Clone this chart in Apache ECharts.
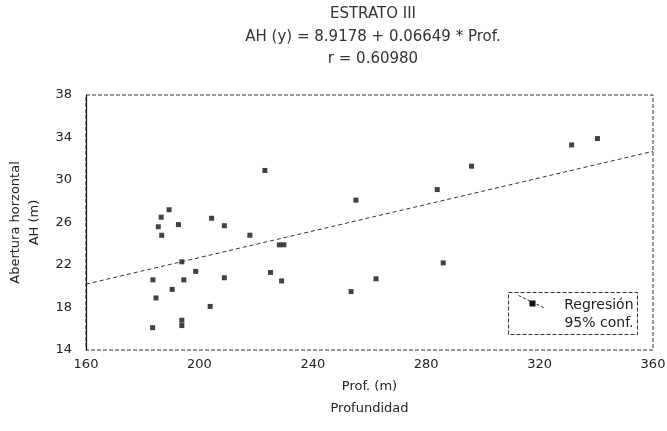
<!DOCTYPE html>
<html>
<head>
<meta charset="utf-8">
<script src="https://cdn.jsdelivr.net/npm/echarts@6/dist/echarts.min.js"></script>
<style>
  html, body { margin: 0; padding: 0; background: #fff; }
  #chart { width: 667px; height: 431px; }
</style>
</head>
<body>
<div id="chart"></div>
<script>
// profundidad (m) y abertura horizontal AH (m)
const prof = [223.1, 255.2, 189.3, 186.5, 185.5, 192.6, 186.7, 204.3, 208.8, 217.8,
  228.2, 229.8, 193.8, 198.7, 183.6, 194.5, 208.8, 225.1, 229.0, 190.4,
  184.7, 203.8, 183.5, 193.8, 193.8, 253.5, 262.3, 331.3, 340.4, 296.0,
  283.9, 286.0];
const ah = [30.9, 28.1, 27.2, 26.5, 25.6, 25.8, 24.8, 26.4, 25.7, 24.8,
  23.9, 23.9, 22.3, 21.4, 20.6, 20.6, 20.8, 21.3, 20.5, 19.7,
  18.9, 18.1, 16.1, 16.3, 16.8, 19.5, 20.7, 33.3, 33.9, 31.3,
  29.1, 22.2];
// recta de regresion (extremos leidos)
const regX = [160, 360];
const regY = [20.2, 32.7];

const xTicks = [160, 200, 240, 280, 320, 360];
const yTicks = [14, 18, 22, 26, 30, 34, 38];

let points = prof.map((p, i) => [p, ah[i]]);
let reg = regX.map((x, i) => [x, regY[i]]);

let myChart = echarts.init(document.getElementById("chart"));
myChart.setOption({
  animation: false,
  textStyle: { fontFamily: "DejaVu Sans", color: "#222" },
  title: {
    text: "ESTRATO III\nAH (y) = 8.9178 + 0.06649 * Prof.\nr = 0.60980",
    left: 368,
    top: -2,
    textAlign: "center",
    textStyle: {
      fontSize: 15,
      fontWeight: "normal",
      color: "#333",
      lineHeight: 22.5,
      fontFamily: "DejaVu Sans",
    },
  },
  grid: {
    left: 86,
    right: 14,
    top: 95,
    bottom: 81,
    outerBoundsMode: "none",
    show: true,
    borderColor: "#333",
    borderWidth: 1,
    borderType: "dashed",
  },
  xAxis: {
    type: "value",
    min: 160,
    max: 360,
    interval: 40,
    name: "Prof. (m)\nProfundidad",
    nameLocation: "middle",
    nameGap: 24,
    nameTextStyle: { fontSize: 13, lineHeight: 22, color: "#222", verticalAlign: "top" },
    axisLine: { show: false },
    axisTick: { show: false },
    splitLine: { show: false },
    axisLabel: {
      fontSize: 13,
      color: "#222",
      margin: 8,
      formatter: (v) => (xTicks.includes(v) ? String(v) : ""),
    },
  },
  yAxis: {
    type: "value",
    min: 14,
    max: 38,
    interval: 4,
    name: "Abertura horzontal\nAH (m)",
    nameLocation: "middle",
    nameRotate: 90,
    nameGap: 36,
    nameTextStyle: { fontSize: 13, lineHeight: 19, color: "#222" },
    axisLine: { show: true, lineStyle: { color: "#111", width: 1.2 } },
    axisTick: { show: false },
    splitLine: { show: false },
    axisLabel: {
      fontSize: 13,
      color: "#222",
      margin: 14,
      formatter: (v) => (yTicks.includes(v) ? String(v) : ""),
    },
  },
  series: [
    {
      name: "Regresión",
      type: "line",
      data: reg,
      symbol: "none",
      lineStyle: { color: "#333", width: 1, type: [4, 3] },
      silent: true,
    },
    {
      name: "Datos",
      type: "scatter",
      data: points,
      symbol: "rect",
      symbolSize: 5,
      itemStyle: { color: "#111" },
    },
  ],
  graphic: [
    {
      type: "group",
      left: 508,
      top: 292,
      children: [
        {
          type: "rect",
          shape: { x: 0, y: 0, width: 129, height: 42 },
          style: { fill: "#fff", stroke: "#333", lineWidth: 1, lineDash: [4, 2] },
        },
        {
          type: "line",
          shape: { x1: 10, y1: 3, x2: 37, y2: 16 },
          style: { stroke: "#333", lineWidth: 1, lineDash: [3, 2] },
        },
        {
          type: "rect",
          shape: { x: 21, y: 8, width: 6, height: 6 },
          style: { fill: "#111" },
        },
        {
          type: "text",
          x: 125,
          y: 4,
          style: {
            text: "Regresión\n95% conf.",
            align: "right",
            fontSize: 14,
            lineHeight: 18,
            fill: "#222",
            fontFamily: "DejaVu Sans",
          },
        },
      ],
    },
  ],
});
window.addEventListener("resize", () => {
  myChart.resize();
});
</script>
</body>
</html>
